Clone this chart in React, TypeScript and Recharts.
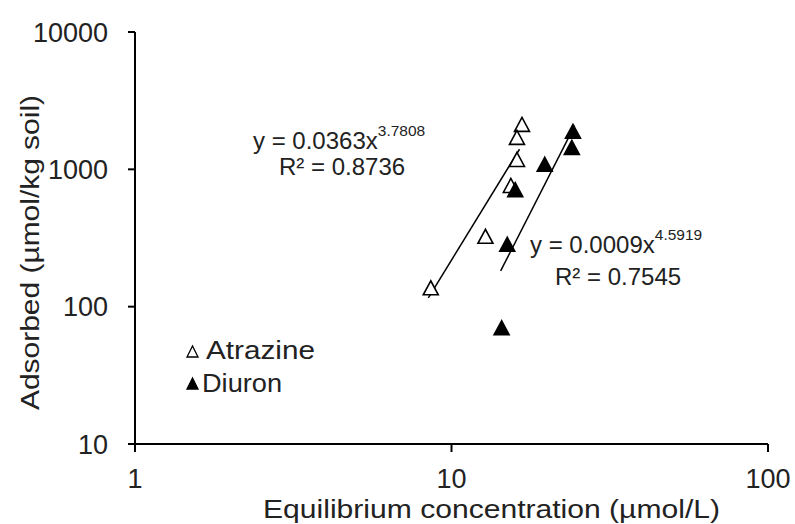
import React from 'react';
import { ScatterChart, Scatter, XAxis, YAxis, Customized } from 'recharts';

// Atrazine (open triangles) and Diuron (filled triangles), log-log
const atrazineX = [16.7, 16.1, 16.1, 15.4, 12.8, 8.6];
const atrazineY = [2090, 1680, 1160, 750, 320, 135];
const diuronX = [24.2, 24.0, 19.7, 15.9, 15.0, 14.4];
const diuronY = [1860, 1420, 1070, 700, 280, 69];

// fitted power-law trend lines, end points
const atrazineFitX = [8.45, 16.4];
const atrazineFitY = [116, 1400];
const diuronFitX = [14.3, 24.5];
const diuronFitY = [182, 2080];

const xTicks = [1, 10, 100];
const yTicks = [10, 100, 1000, 10000];

const toPoints = (xs: number[], ys: number[]) => xs.map((x, i) => ({ x, y: ys[i] }));

const FONT = '"Liberation Sans", Arial, sans-serif';

const Triangle = (filled: boolean) => (props: any) => {
  const { cx, cy } = props;
  if (cx == null || cy == null) return <g />;
  return (
    <polygon
      points={`${cx},${cy - 8} ${cx - 7.5},${cy + 6} ${cx + 7.5},${cy + 6}`}
      fill={filled ? '#000' : '#fff'}
      stroke="#000"
      strokeWidth={1.6}
      strokeLinejoin="miter"
    />
  );
};

const Annotations = () => (
  <g fontFamily={FONT} fill="#222">
    {/* axis titles */}
    <text x={263} y={518} fontSize={26} textLength={457} lengthAdjust="spacingAndGlyphs">
      Equilibrium concentration (µmol/L)
    </text>
    <text
      transform="translate(39, 410) rotate(-90)"
      fontSize={26}
      textLength={315}
      lengthAdjust="spacingAndGlyphs"
    >
      Adsorbed (µmol/kg soil)
    </text>

    {/* trend equations */}
    <text x={253} y={149} fontSize={24}>
      y = 0.0363x<tspan fontSize={15.5} dy={-13}>3.7808</tspan>
    </text>
    <text x={279} y={175} fontSize={24}>R² = 0.8736</text>
    <text x={530} y={253} fontSize={24}>
      y = 0.0009x<tspan fontSize={15.5} dy={-13}>4.5919</tspan>
    </text>
    <text x={555} y={285} fontSize={24}>R² = 0.7545</text>

    {/* legend */}
    <polygon points="192.5,346 187,357 198,357" fill="#fff" stroke="#000" strokeWidth={1.3} />
    <text x={206} y={359} fontSize={26} textLength={109} lengthAdjust="spacingAndGlyphs">
      Atrazine
    </text>
    <polygon points="192.5,378 187,389 198,389" fill="#000" stroke="#000" strokeWidth={1.3} />
    <text x={202} y={392} fontSize={26} textLength={80} lengthAdjust="spacingAndGlyphs">
      Diuron
    </text>
  </g>
);

const tickStyle = { fontSize: 27, fill: '#222', fontFamily: FONT };

export default function App() {
  return (
    <div style={{ position: 'absolute', left: 0, top: 0, width: 795, height: 524, background: '#fff' }}>
      <ScatterChart width={795} height={524} margin={{ top: 32, right: 27, bottom: 0, left: 0 }}>
        <XAxis
          type="number"
          dataKey="x"
          scale="log"
          domain={[1, 100]}
          ticks={xTicks}
          allowDataOverflow
          height={80}
          axisLine={{ stroke: '#000', strokeWidth: 2 }}
          tickLine={{ stroke: '#000', strokeWidth: 2 }}
          tickSize={8}
          tickMargin={17}
          tick={tickStyle}
        />
        <YAxis
          type="number"
          dataKey="y"
          scale="log"
          domain={[10, 10000]}
          ticks={yTicks}
          allowDataOverflow
          width={135}
          axisLine={{ stroke: '#000', strokeWidth: 2 }}
          tickLine={{ stroke: '#000', strokeWidth: 2 }}
          tickSize={7}
          tickMargin={20}
          tick={tickStyle}
        />
        <Scatter
          data={toPoints(atrazineFitX, atrazineFitY)}
          line={{ stroke: '#000', strokeWidth: 1.5 }}
          shape={() => <g />}
          isAnimationActive={false}
        />
        <Scatter
          data={toPoints(diuronFitX, diuronFitY)}
          line={{ stroke: '#000', strokeWidth: 1.5 }}
          shape={() => <g />}
          isAnimationActive={false}
        />
        <Scatter data={toPoints(atrazineX, atrazineY)} shape={Triangle(false)} isAnimationActive={false} />
        <Scatter data={toPoints(diuronX, diuronY)} shape={Triangle(true)} isAnimationActive={false} />
        <Customized component={Annotations} />
      </ScatterChart>
    </div>
  );
}
